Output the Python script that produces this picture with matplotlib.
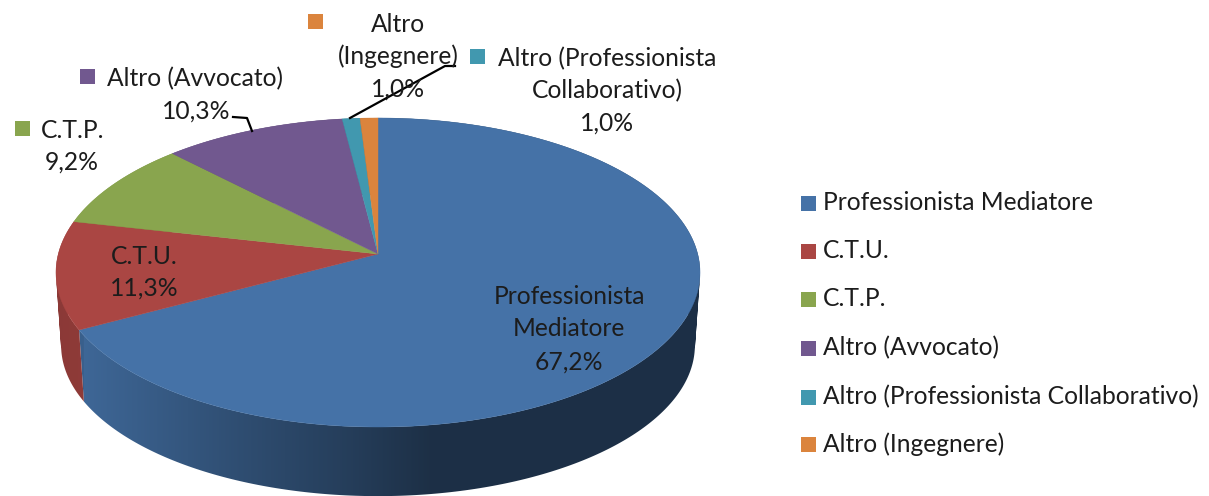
import numpy as np
import matplotlib
matplotlib.use("Agg")
import matplotlib.pyplot as plt
from matplotlib.colors import to_rgb
from matplotlib.patches import PathPatch, Rectangle
from matplotlib.path import Path

plt.rcParams['font.family'] = ['Lato', 'DejaVu Sans']

categories = ["Professionista Mediatore", "C.T.U.", "C.T.P.", "Altro (Avvocato)",
              "Altro (Professionista Collaborativo)", "Altro (Ingegnere)"]
values = [67.2, 11.3, 9.2, 10.3, 1.0, 1.0]
colors = ["#4572A7", "#AA4643", "#89A54E", "#71588F", "#4198AF", "#DB843D"]

W, H = 1209, 496
FS = 17.7
TXT = "#1c1c1c"

# perspective of the disc, in pixels
APEX_X, APEX_Y = 378, 254
K = 0.1197
RX, RY = 319.7, 152.3
ELL_CY = 272
DEPTH = 73
SHRINK_X, SHRINK_Y = 0.984, 0.975


def rim(deg):
    # angle is clockwise from 12 o'clock
    a = np.radians(deg)
    u, v = np.sin(a), np.cos(a)
    w = 1 + K * v
    return APEX_X + RX * u / w, APEX_Y - RY * v / w


def rim_low(deg):
    x, y = rim(deg)
    return APEX_X + (x - APEX_X) * SHRINK_X, ELL_CY + DEPTH + (y - ELL_CY) * SHRINK_Y


def side_shade(x):
    return np.interp(x, [58, 83, 84, 240, 350, 430, 700], [0.82, 0.84, 0.90, 0.68, 0.54, 0.42, 0.42])


def wall_path(ang):
    # union of small quads, all wound the same way so none of them cancel
    xt, yt = rim(ang)
    xb, yb = rim_low(ang)
    quads = []
    for j in range(len(ang) - 1):
        q = np.array([[xt[j], yt[j]], [xt[j + 1], yt[j + 1]], [xb[j + 1], yb[j + 1]], [xb[j], yb[j]], [xt[j], yt[j]]])
        area = np.sum(q[:-1, 0] * q[1:, 1] - q[1:, 0] * q[:-1, 1])
        if area < 0:
            q = q[::-1]
        quads.append(Path(q, closed=True))
    return Path.make_compound_path(*quads)


fig = plt.figure(figsize=(W / 100, H / 100), dpi=100)
ax = fig.add_axes([0, 0, 1, 1])

edges = np.concatenate([[0], np.cumsum(values) / np.sum(values) * 360])

# side wall first, a horizontal gradient clipped to each slice, then the top
grad_x = np.arange(W + 1)
for i, c in enumerate(colors):
    ang = np.linspace(edges[i], edges[i + 1], 300)
    wall = PathPatch(wall_path(ang), transform=ax.transData, facecolor="none", edgecolor="none")
    ax.add_patch(wall)
    row = np.array(to_rgb(c))[None, None, :] * side_shade(grad_x)[None, :, None]
    img = ax.imshow(row, extent=(0, W, H, 0), aspect="auto", interpolation="bilinear", zorder=1)
    img.set_clip_path(wall)

ax.set_xlim(0, W)
ax.set_ylim(H, 0)
ax.axis("off")

for i, c in enumerate(colors):
    ang = np.linspace(edges[i], edges[i + 1], 300)
    xs, ys = rim(ang)
    ax.fill(np.r_[APEX_X, xs], np.r_[APEX_Y, ys], color=c, lw=0.3, zorder=2)

# leader lines
ax.plot([233, 247, 252], [117, 118, 131], color="black", lw=1.6, zorder=3, solid_joinstyle="round")
ax.plot([350, 445, 455], [118, 66, 66], color="black", lw=1.6, zorder=3, solid_joinstyle="round")


def key(x, y, c, size=15, z=4):
    ax.add_patch(Rectangle((x - size / 2, y - size / 2), size, size, facecolor=c,
                           edgecolor="none", zorder=z))


def label(x, y, s, ha="center"):
    ax.text(x, y + 1, s, ha=ha, va="center", fontsize=FS, color=TXT, zorder=5)


# data labels
key(22, 128, colors[2])
key(87, 76, colors[3])
key(477, 56, colors[4])
key(315, 21, colors[5])

label(569, 295, "Professionista")
label(569, 328, "Mediatore")
label(569, 361, "67,2%")
label(144, 255, "C.T.U.")
label(144, 287, "11,3%")
label(73, 129, "C.T.P.")
label(72, 161, "9,2%")
label(195, 78, "Altro (Avvocato)")
label(196, 110, "10,3%")
label(607, 58, "Altro (Professionista")
label(607, 90, "Collaborativo)")
label(607, 122, "1,0%")
label(398, 23, "Altro")
label(398, 55, "(Ingegnere)")
label(398, 88, "1,0%")

# legend
legend_y = [203, 251, 299, 348, 397, 444]
for name, c, y in zip(categories, colors, legend_y):
    key(808.5, y, c, size=15)
    label(823, y - 1, name, ha="left")

fig.savefig("out.png", dpi=100, facecolor="white")
